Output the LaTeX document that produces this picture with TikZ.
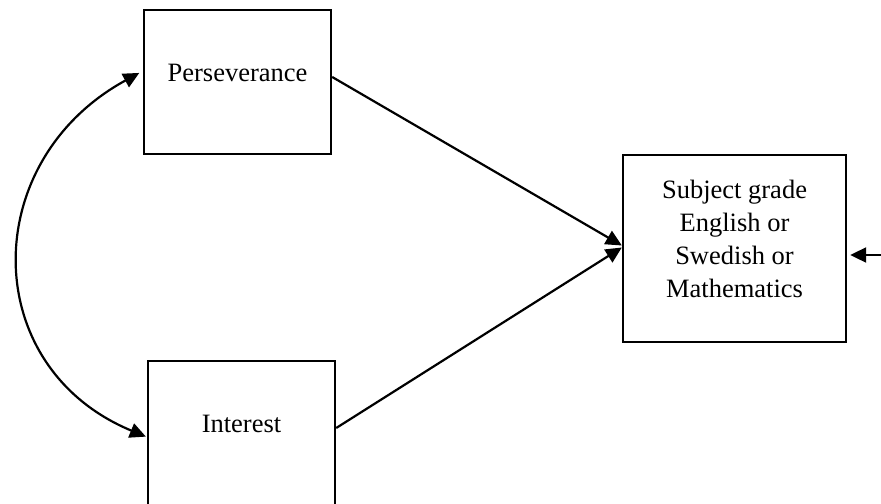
\documentclass[tikz,border=0pt]{standalone}
\usepackage{fontspec}
\setmainfont{Liberation Serif}
\usetikzlibrary{arrows.meta,
	calc,
	positioning}
\tikzstyle{var}=[draw, line width=1.2pt, minimum width=93.5pt, minimum height=72pt,
		text height=9pt, text depth=10pt, inner sep=0,
		font=\fontsize{13.25}{16.5}\selectfont]
\tikzstyle{dv}=[draw, line width=1.2pt, minimum width=111.5pt, minimum height=93.5pt,
		align=center, text depth=10pt, inner sep=0, font=\fontsize{13.25}{16.5}\selectfont]
\tikzstyle{con}=[line width=1.1pt, -{Triangle[length=8pt,width=7.5pt]}]
\tikzstyle{cov}=[line width=1.1pt, {Triangle[length=8pt,width=7.5pt]}-{Triangle[length=8pt,width=7.5pt]}]

\begin{document}
\begin{tikzpicture}[x=0.5pt, y=-0.5pt]
                \useasboundingbox (0,0) rectangle (881,503);
                % the three variables
                \node[var] (pers) at (237.5,82) {Perseverance};
                \node[var] (inter) at (241.5,433) {Interest};
                \node[dv] (grade) at (734.5,248.5) {Subject grade\\English or\\Swedish or\\Mathematics};
                \coordinate (resid) at (881,255);
                % paths
                \draw[con] ([yshift=2.5pt]pers.east) -- ([yshift=1.5pt]grade.west);
                \draw[con] ([yshift=2.5pt]inter.east) -- ([yshift=0.5pt]grade.west);
                \draw[con, shorten >=1.5pt] (resid) -- (resid -| grade.east);
                % covariance
                \draw[cov, shorten <=2pt, shorten >=0.5pt] ([yshift=5.5pt]pers.west)
                    .. controls (-22,161) and (-22,367) .. ([yshift=-2pt]inter.west);
            \end{tikzpicture}
\end{document}
